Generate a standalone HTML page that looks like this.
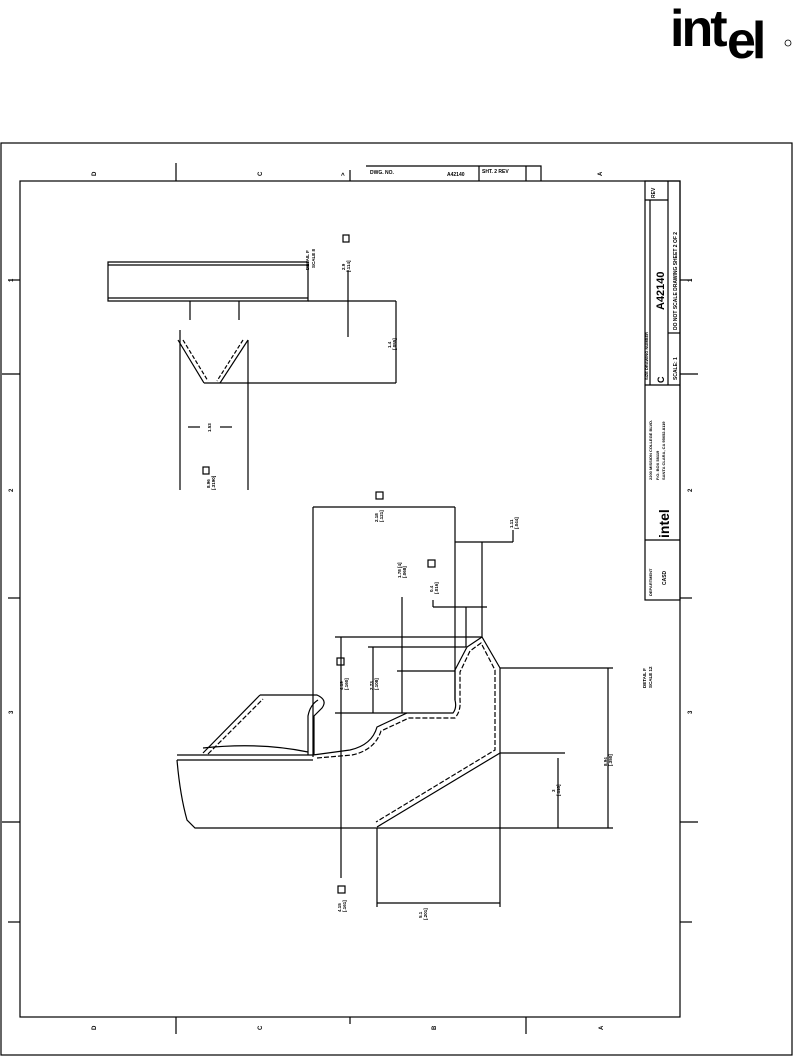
<!DOCTYPE html>
<html><head><meta charset="utf-8"><style>
html,body{margin:0;padding:0;background:#fff;}
svg{display:block;}
text{font-family:"Liberation Sans",sans-serif;font-weight:bold;fill:#000;}
</style></head><body>
<svg width="794" height="1057" viewBox="0 0 794 1057" xmlns="http://www.w3.org/2000/svg">
<!-- intel logo -->
<text x="670" y="46" font-size="52" letter-spacing="-3">int</text>
<text x="727" y="58" font-size="52" letter-spacing="-4">el</text>
<circle cx="788" cy="43" r="3" fill="none" stroke="#000" stroke-width="0.8"/>

<g fill="none" stroke="#000" stroke-width="1.2">
<rect x="1" y="143" width="791" height="912"/>
<rect x="20" y="181" width="660" height="836"/>
<line x1="176" y1="163" x2="176" y2="181"/>
<line x1="350" y1="170" x2="350" y2="181"/>
<line x1="526" y1="166" x2="526" y2="181"/>
<path d="M366 166 H541 V181"/>
<line x1="479" y1="166" x2="479" y2="181"/>
<line x1="176" y1="1017" x2="176" y2="1034"/>
<line x1="526" y1="1017" x2="526" y2="1034"/>
<line x1="350" y1="1017" x2="350" y2="1024"/>
<line x1="8" y1="280" x2="20" y2="280"/><line x1="680" y1="280" x2="692" y2="280"/>
<line x1="2" y1="374" x2="20" y2="374"/><line x1="680" y1="374" x2="698" y2="374"/>
<line x1="2" y1="822" x2="20" y2="822"/><line x1="680" y1="822" x2="698" y2="822"/>
<line x1="8" y1="598" x2="20" y2="598"/><line x1="680" y1="598" x2="692" y2="598"/>
<line x1="8" y1="922" x2="20" y2="922"/><line x1="680" y1="922" x2="692" y2="922"/>
<rect x="645" y="181" width="35" height="419"/>
<line x1="668" y1="181" x2="668" y2="385"/>
<line x1="645" y1="200" x2="668" y2="200"/>
<line x1="668" y1="333" x2="680" y2="333"/>
<line x1="645" y1="385" x2="680" y2="385"/>
<line x1="645" y1="540" x2="680" y2="540"/>
<line x1="650" y1="200" x2="650" y2="385"/>

<path d="M108 262 H308 V301 H108 Z"/>
<line x1="108" y1="265" x2="308" y2="265"/>
<line x1="108" y1="298" x2="308" y2="298"/>
<line x1="190" y1="301" x2="190" y2="320"/>
<line x1="239" y1="301" x2="239" y2="320"/>
<line x1="308" y1="301" x2="396" y2="301"/>
<line x1="396" y1="301" x2="396" y2="383"/>
<line x1="204" y1="383" x2="396" y2="383"/>
<line x1="348" y1="270" x2="348" y2="337"/>
<path d="M178 340 L204 383"/><path d="M183 340 L208 381" stroke-dasharray="4 2"/>
<path d="M248 340 L220 383"/><path d="M243 340 L217 381" stroke-dasharray="4 2"/>
<line x1="180" y1="330" x2="180" y2="490"/>
<line x1="248" y1="340" x2="248" y2="490"/>
<line x1="188" y1="427" x2="200" y2="427"/><line x1="220" y1="427" x2="232" y2="427"/>
<rect x="203" y="467" width="6" height="7"/>
<rect x="343" y="235" width="6" height="7"/>

<line x1="313" y1="507" x2="455" y2="507"/>
<line x1="313" y1="507" x2="313" y2="757"/>
<line x1="455" y1="507" x2="455" y2="700"/>
<line x1="455" y1="542" x2="513" y2="542"/><line x1="513" y1="530" x2="513" y2="542"/>
<line x1="482" y1="542" x2="482" y2="637"/>
<line x1="433" y1="607" x2="487" y2="607"/><line x1="433" y1="600" x2="433" y2="607"/>
<line x1="466" y1="607" x2="466" y2="647"/>
<line x1="402" y1="597" x2="402" y2="713"/>
<line x1="335" y1="637" x2="482" y2="637"/>
<line x1="368" y1="647" x2="466" y2="647"/>
<line x1="397" y1="671" x2="455" y2="671"/>
<line x1="335" y1="713" x2="407" y2="713"/>
<line x1="341" y1="637" x2="341" y2="878"/>
<line x1="373" y1="647" x2="373" y2="713"/>
<rect x="338" y="886" width="7" height="7"/>
<rect x="337" y="658" width="7" height="7"/>
<rect x="376" y="492" width="7" height="7"/>
<rect x="428" y="560" width="7" height="7"/>
<line x1="500" y1="668" x2="613" y2="668"/>
<line x1="608" y1="668" x2="608" y2="828"/>
<line x1="500" y1="753" x2="565" y2="753"/>
<line x1="558" y1="758" x2="558" y2="828"/>
<line x1="377" y1="828" x2="377" y2="907"/>
<line x1="500" y1="753" x2="500" y2="907"/>
<line x1="377" y1="903" x2="500" y2="903"/>

<line x1="177" y1="755" x2="313" y2="755"/>
<line x1="177" y1="760" x2="313" y2="760"/>
<path d="M177 760 Q180 795 187 820 L195 828 H613"/>
<path d="M203 753 L260 695"/><path d="M208 754 L263 699" stroke-dasharray="5 2"/>
<path d="M260 695 H317 Q328 700 322 708 L314 716 V755"/>
<path d="M308 755 V716 Q310 705 318 700"/>
<path d="M203 748 Q260 742 308 752"/>
<path d="M313 755 L350 750 Q372 745 377 727 L407 713 H453 Q457 708 455 700 V670 L467 647 L482 637 L500 668 V753 L377 827"/>
<path d="M317 758 L352 755 Q375 750 381 731 L409 718 H455 Q461 711 460 700 V672 L470 651 L481 643 L495 670 V750 L376 822" stroke-dasharray="5 2"/>
</g>

<g font-size="6">
<text x="96" y="176" transform="rotate(-90 96 176)">D</text>
<text x="262" y="176" transform="rotate(-90 262 176)">C</text>
<text x="345" y="176" transform="rotate(-90 345 176)">&gt;</text>
<text x="602" y="176" transform="rotate(-90 602 176)">A</text>
<text x="96" y="1030" transform="rotate(-90 96 1030)">D</text>
<text x="262" y="1030" transform="rotate(-90 262 1030)">C</text>
<text x="436" y="1030" transform="rotate(-90 436 1030)">B</text>
<text x="603" y="1030" transform="rotate(-90 603 1030)">A</text>
<text x="370" y="174" font-size="5">DWG. NO.</text>
<text x="447" y="176" font-size="5">A42140</text>
<text x="482" y="173" font-size="5">SHT. 2 REV</text>
<text x="13" y="282" transform="rotate(-90 13 282)">1</text>
<text x="13" y="492" transform="rotate(-90 13 492)">2</text>
<text x="13" y="714" transform="rotate(-90 13 714)">3</text>
<text x="692" y="282" transform="rotate(-90 692 282)">1</text>
<text x="692" y="492" transform="rotate(-90 692 492)">2</text>
<text x="692" y="714" transform="rotate(-90 692 714)">3</text>
<text x="655" y="198" font-size="5" transform="rotate(-90 655 198)">REV</text>
<text x="677" y="330" font-size="5" transform="rotate(-90 677 330)">DO NOT SCALE DRAWING SHEET 2 OF 2</text>
<text x="664" y="310" font-size="11" font-weight="normal" transform="rotate(-90 664 310)">A42140</text>
<text x="648" y="380" font-size="4" transform="rotate(-90 648 380)">SIZE DRAWING NUMBER</text>
<text x="664" y="383" font-size="9" transform="rotate(-90 664 383)">C</text>
<text x="677" y="380" font-size="5" transform="rotate(-90 677 380)">SCALE: 1</text>
<text x="652" y="480" font-size="4" transform="rotate(-90 652 480)">2200 MISSION COLLEGE BLVD.</text>
<text x="659" y="480" font-size="4" transform="rotate(-90 659 480)">P.O. BOX 58119</text>
<text x="665" y="480" font-size="4" transform="rotate(-90 665 480)">SANTA CLARA, CA 95052-8119</text>
<text x="669" y="538" font-size="14" transform="rotate(-90 669 538)">intel</text>
<text x="652" y="596" font-size="4" transform="rotate(-90 652 596)">DEPARTMENT</text>
<text x="666" y="585" font-size="5" transform="rotate(-90 666 585)">CASD</text>
<text x="309" y="270" font-size="4.5" transform="rotate(-90 309 270)">DETAIL F</text>
<text x="315" y="268" font-size="4.5" transform="rotate(-90 315 268)">SCALE 8</text>
<text x="345" y="270" font-size="4.5" transform="rotate(-90 345 270)">2.9</text>
<text x="350" y="272" font-size="4.5" transform="rotate(-90 350 272)">[.114]</text>
<text x="391" y="348" font-size="4.5" transform="rotate(-90 391 348)">1.4</text>
<text x="396" y="350" font-size="4.5" transform="rotate(-90 396 350)">[.055]</text>
<text x="211" y="432" font-size="4.5" transform="rotate(-90 211 432)">1.53</text>
<text x="210" y="488" font-size="4.5" transform="rotate(-90 210 488)">8.96</text>
<text x="215" y="490" font-size="4.5" transform="rotate(-90 215 490)">[.3190]</text>
<text x="378" y="522" font-size="4.5" transform="rotate(-90 378 522)">2.18</text>
<text x="383" y="522" font-size="4.5" transform="rotate(-90 383 522)">[.121]</text>
<text x="513" y="528" font-size="4.5" transform="rotate(-90 513 528)">1.11</text>
<text x="518" y="529" font-size="4.5" transform="rotate(-90 518 529)">[.044]</text>
<text x="401" y="578" font-size="4.5" transform="rotate(-90 401 578)">1.78 [4]</text>
<text x="406" y="578" font-size="4.5" transform="rotate(-90 406 578)">[.068]</text>
<text x="433" y="592" font-size="4.5" transform="rotate(-90 433 592)">0.4</text>
<text x="438" y="594" font-size="4.5" transform="rotate(-90 438 594)">[.016]</text>
<text x="343" y="690" font-size="4.5" transform="rotate(-90 343 690)">4.19</text>
<text x="348" y="690" font-size="4.5" transform="rotate(-90 348 690)">[.160]</text>
<text x="373" y="690" font-size="4.5" transform="rotate(-90 373 690)">2.73</text>
<text x="378" y="690" font-size="4.5" transform="rotate(-90 378 690)">[.108]</text>
<text x="341" y="912" font-size="4.5" transform="rotate(-90 341 912)">4.15</text>
<text x="346" y="912" font-size="4.5" transform="rotate(-90 346 912)">[.161]</text>
<text x="422" y="918" font-size="4.5" transform="rotate(-90 422 918)">5.1</text>
<text x="427" y="920" font-size="4.5" transform="rotate(-90 427 920)">[.201]</text>
<text x="555" y="792" font-size="4.5" transform="rotate(-90 555 792)">3</text>
<text x="560" y="796" font-size="4.5" transform="rotate(-90 560 796)">[.118]</text>
<text x="607" y="766" font-size="4.5" transform="rotate(-90 607 766)">8.94</text>
<text x="612" y="766" font-size="4.5" transform="rotate(-90 612 766)">[.350]</text>
<text x="646" y="688" font-size="4.5" transform="rotate(-90 646 688)">DETAIL F</text>
<text x="652" y="688" font-size="4.5" transform="rotate(-90 652 688)">SCALE 12</text>
</g>
</svg>
</body></html>
